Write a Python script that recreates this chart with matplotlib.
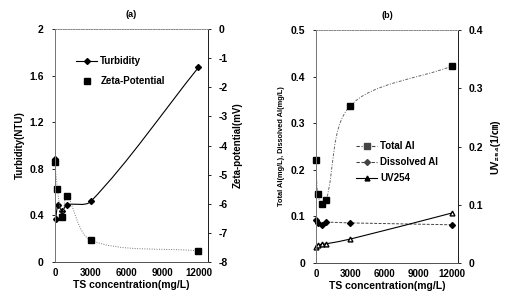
import numpy as np
import matplotlib
matplotlib.use("Agg")
import matplotlib.pyplot as plt
from matplotlib.path import Path
from matplotlib.patches import PathPatch
from matplotlib.lines import Line2D
from matplotlib.ticker import FuncFormatter

plt.rcParams['font.family'] = ['Liberation Sans', 'DejaVu Sans', 'Noto Sans CJK KR']
plt.rcParams['font.weight'] = 'bold'
plt.rcParams['axes.labelweight'] = 'bold'
plt.rcParams['axes.unicode_minus'] = False

# (a) turbidity and zeta potential vs TS concentration
turb_x = [0, 50, 250, 600, 1000, 3000, 12000]
turbidity = [0.88, 0.37, 0.49, 0.44, 0.49, 0.52, 1.67]
zeta_x = [0, 200, 600, 1000, 3000, 12000]
zeta = [-4.56, -5.48, -6.47, -5.74, -7.25, -7.62]

# (b) aluminium and UV254 vs TS concentration
al_x = [0, 150, 500, 900, 3000, 12000]
total_al = [0.22, 0.148, 0.127, 0.135, 0.337, 0.423]
dissolved_al = [0.092, 0.085, 0.082, 0.087, 0.086, 0.082]
uv254 = [0.028, 0.031, 0.032, 0.033, 0.041, 0.086]


def smooth_line(ax, x, y, **kw):
    # smoothed line like the spreadsheet one: bezier through the points,
    # tangents weighted by segment length on screen
    p = np.column_stack([x, y]).astype(float)
    s = ax.transData.transform(p)
    n = len(p)
    verts = [p[0]]
    codes = [Path.MOVETO]
    for i in range(n - 1):
        d = np.hypot(*(s[i + 1] - s[i]))
        if i > 0:
            dp = np.hypot(*(s[i] - s[i - 1]))
            c1 = p[i] + (p[i + 1] - p[i - 1]) * d / (d + dp) / 3.0
        else:
            c1 = p[i] + (p[i + 1] - p[i]) / 3.0
        if i + 2 < n:
            dn = np.hypot(*(s[i + 2] - s[i + 1]))
            c2 = p[i + 1] - (p[i + 2] - p[i]) * d / (d + dn) / 3.0
        else:
            c2 = p[i + 1] - (p[i + 1] - p[i]) / 3.0
        verts += [c1, c2, p[i + 1]]
        codes += [Path.CURVE4] * 3
    ax.add_patch(PathPatch(Path(verts, codes), fill=False, **kw))


def style_axes(ax, twin):
    for a in (ax, twin):
        a.spines['top'].set_linestyle(':')
        a.spines['top'].set_color('#888888')
        a.spines['left'].set_color('#777777')
        a.spines['bottom'].set_color('#555555')
        a.spines['right'].set_color('#222222')
        for s in a.spines.values():
            s.set_linewidth(0.7)
        a.tick_params(axis='y', length=2, width=0.6, labelsize=7.5, pad=6)
        a.tick_params(axis='x', length=0, labelsize=7, pad=4)
        a.yaxis.set_major_formatter(FuncFormatter(lambda v, p: '%g' % round(v, 3)))


fig = plt.figure(figsize=(5.11, 2.96), dpi=100)

# ---- panel (a)
ax1 = fig.add_axes([0.1076, 0.1149, 0.2994, 0.787])
ax1r = ax1.twinx()
ax1.set_xlim(0, 12800)
ax1.set_ylim(0, 2)
ax1r.set_ylim(-8, 0)
ax1.set_xticks([0, 3000, 6000, 9000, 12000])
ax1.set_yticks([0, 0.4, 0.8, 1.2, 1.6, 2])
ax1r.set_yticks(range(-8, 1))
smooth_line(ax1, turb_x, turbidity, color='black', lw=0.8)
ax1.plot(turb_x, turbidity, 'D', color='black', ms=3, clip_on=False)
smooth_line(ax1r, zeta_x, zeta, color='#777777', lw=0.7, linestyle=(0, (1, 1.5)))
ax1r.plot(zeta_x, zeta, 's', color='black', ms=4.5, clip_on=False)
style_axes(ax1, ax1r)
ax1.set_title('(a)', fontsize=6.5, fontweight='bold', pad=9)
ax1.set_xlabel('TS concentration(mg/L)', fontsize=7.5, labelpad=2)
ax1.set_ylabel('Turbidity(NTU)', fontsize=7, labelpad=3)
ax1r.set_ylabel('Zeta-potential(mV)', fontsize=7, labelpad=3)
h_a = [Line2D([], [], color='black', lw=0.8, marker='D', ms=3),
       Line2D([], [], color='none', marker='s', mfc='black', mec='black', ms=4)]
ax1.legend(h_a, ['Turbidity', 'Zeta-Potential'], loc='upper left',
           bbox_to_anchor=(0.08, 0.92), frameon=False,
           prop={'size': 7, 'weight': 'bold'},
           handlelength=2.2, labelspacing=1.0, handletextpad=0.3)

# ---- panel (b)
ax2 = fig.add_axes([0.6184, 0.1115, 0.2779, 0.787])
ax2r = ax2.twinx()
ax2.set_xlim(0, 12500)
ax2.set_ylim(0, 0.5)
ax2r.set_ylim(0, 0.4)
ax2.set_xticks([0, 3000, 6000, 9000, 12000])
ax2.set_yticks([0, 0.1, 0.2, 0.3, 0.4, 0.5])
ax2r.set_yticks([0, 0.1, 0.2, 0.3, 0.4])
smooth_line(ax2, al_x, total_al, color='#666666', lw=0.7, linestyle=(0, (3, 1.5, 1, 1.5)))
ax2.plot(al_x, total_al, 's', color='black', ms=4.5, clip_on=False)
smooth_line(ax2, al_x, dissolved_al, color='#444444', lw=0.7, linestyle=(0, (3, 1.5)))
ax2.plot(al_x, dissolved_al, 'D', color='black', ms=3, clip_on=False)
smooth_line(ax2r, al_x, uv254, color='black', lw=0.8)
ax2r.plot(al_x, uv254, '^', color='black', mfc='white', ms=3.5, clip_on=False)
style_axes(ax2, ax2r)
ax2.set_title('(b)', fontsize=6.5, fontweight='bold', pad=9)
ax2.set_xlabel('TS concentration(mg/L)', fontsize=7.5, labelpad=2)
ax2.set_ylabel('Total Al(mg/L), Dissolved Al(mg/L)', fontsize=5.3, labelpad=4)
ax2r.set_ylabel('UV₂₅₄(1/㎝)', fontsize=7.5, labelpad=5,
                family=['Liberation Sans', 'DejaVu Sans', 'Noto Sans CJK KR'],
                fontweight='bold')
h_b = [Line2D([], [], color='#444444', lw=0.8, ls=(0, (3, 1.5, 1, 1.5)), marker='s', ms=4),
       Line2D([], [], color='#444444', lw=0.8, ls=(0, (3, 1.5)), marker='D', ms=3),
       Line2D([], [], color='black', lw=0.8, marker='^', ms=3.5)]
ax2.legend(h_b, ['Total Al', 'Dissolved Al', 'UV254'], loc='upper left',
           bbox_to_anchor=(0.22, 0.56), frameon=False,
           prop={'size': 7, 'weight': 'bold'},
           handlelength=2.2, labelspacing=0.6, handletextpad=0.3)

# tick labels are created on draw, make them bold afterwards
fig.canvas.draw()
for a in (ax1, ax1r, ax2, ax2r):
    for lbl in a.get_xticklabels() + a.get_yticklabels():
        lbl.set_fontweight('bold')

fig.savefig('out.png', dpi=100)
